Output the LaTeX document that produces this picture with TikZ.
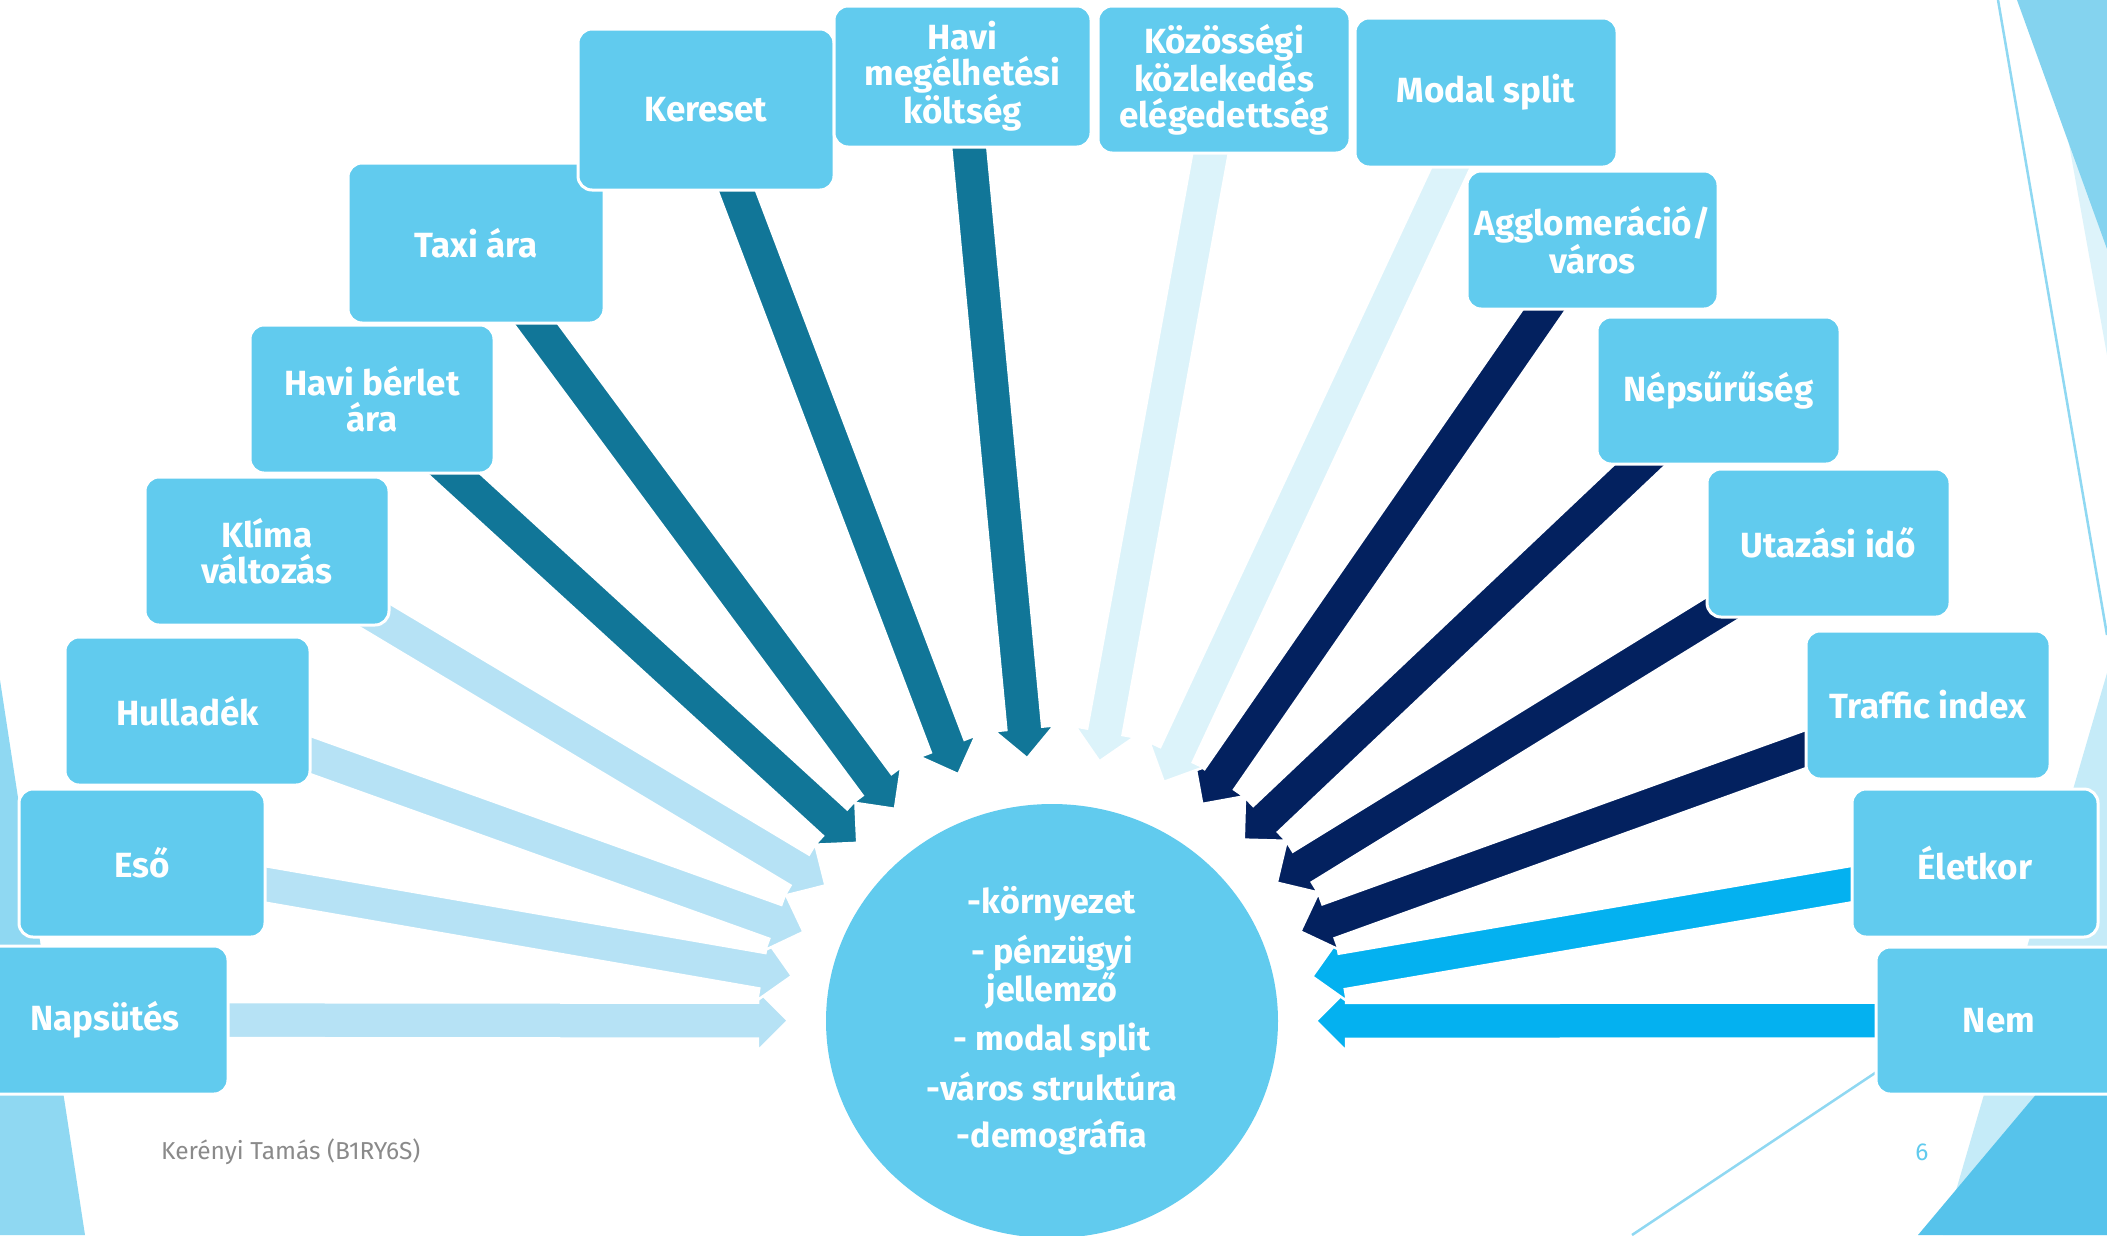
\documentclass[tikz,border=0pt]{standalone}
\usepackage{fontspec}
\setmainfont{Fira Sans}
\usetikzlibrary{calc,shapes.geometric}
\definecolor{boxblue}{HTML}{61CBEE}
\definecolor{lightarr}{HTML}{B6E2F5}
\definecolor{tealarr}{HTML}{117698}
\definecolor{palearr}{HTML}{DCF3FA}
\definecolor{navyarr}{HTML}{03215F}
\definecolor{brightarr}{HTML}{04B1F0}
\definecolor{decoA}{HTML}{8FD8F2}
\definecolor{decoB}{HTML}{DDF3FA}
\definecolor{decoC}{HTML}{84D3EF}
\definecolor{decoD}{HTML}{C5EBF8}
\definecolor{decoE}{HTML}{56C3EB}
\definecolor{footgray}{HTML}{8A8A8A}
\pgfdeclarelayer{deco}
\pgfdeclarelayer{arr}
\pgfsetlayers{deco,arr,main}
\tikzset{
  factor/.style={rectangle, rounded corners=14pt, fill=boxblue, draw=white,
    line width=3pt, text=white, font=\bfseries\fontsize{35}{36}\selectfont,
    align=center, inner sep=0pt},
  hub/.style={ellipse, fill=boxblue, draw=none, minimum width=452pt,
    minimum height=434pt, inner sep=0pt, text=white,
    font=\bfseries\fontsize{34}{34}\selectfont, align=center},
  decoline/.style={draw=decoA, line width=2.5pt},
  arrowedge/.style={draw=white, line width=2.5pt, line join=miter}
}
\newcommand\blkarrow[2]{%
  \coordinate (tip-#2) at ($(c.center)!264pt!(#2.center)$);
  \coordinate (nk-#2) at ($(tip-#2)!30pt!(#2.center)$);
  \path[fill=#1, arrowedge]
    ($(#2.center)!18pt!90:(tip-#2)$) -- ($(nk-#2)!18pt!90:(tip-#2)$) --
    ($(nk-#2)!30pt!90:(tip-#2)$) -- (tip-#2) --
    ($(nk-#2)!30pt!-90:(tip-#2)$) -- ($(nk-#2)!18pt!-90:(tip-#2)$) --
    ($(#2.center)!18pt!-90:(tip-#2)$) -- cycle;
}
\begin{document}
\begin{tikzpicture}[x=1pt,y=-1pt]
\useasboundingbox (0,0) rectangle (2107,1235);

% background decorations
\begin{pgfonlayer}{deco}
\fill[white] (0,0) rectangle (2107,1235);
\fill[decoB] (2043,0) -- (2107,0) -- (2107,355) -- cycle;
\fill[decoC] (2017,0) -- (2107,0) -- (2107,249) -- cycle;
\draw[decoline] (1998,0) -- (2107,635);
\fill[decoA] (0,680) -- (85,1235) -- (0,1235) -- cycle;
\fill[decoD] (1943,1235) -- (2107,673) -- (2107,1235) -- cycle;
\fill[decoE] (1918,1235) -- (2107,1010) -- (2107,1235) -- cycle;
\draw[decoline] (1632,1235) -- (1950,1023);
\end{pgfonlayer}

% centre
\node[hub] (c) at (1052,1021) {-környezet\\[13pt] - pénzügyi\\ jellemző\\[13pt] - modal split\\[13pt] -város struktúra\\[13pt] -demográfia};

% factor boxes
\node[factor, minimum width=246pt, minimum height=148pt] (b1) at (105,1020) {Napsütés};
\node[factor, minimum width=246pt, minimum height=148pt] (b2) at (142,863) {Eső};
\node[factor, minimum width=245pt, minimum height=148pt] (b3) at (187.5,711) {Hulladék};
\node[factor, minimum width=244pt, minimum height=148pt] (b4) at (267,551) {Klíma\\változás};
\node[factor, minimum width=244pt, minimum height=148pt] (b5) at (372,399) {Havi bérlet\\ára};
\node[factor, minimum width=256pt, minimum height=160pt] (b6) at (476,243) {Taxi ára};
\node[factor, minimum width=256pt, minimum height=161pt] (b7) at (706,109.5) {Kereset};
\node[factor, minimum width=257pt, minimum height=141pt] (b8) at (962.5,76.5) {Havi\\megélhetési\\költség};
\node[factor, minimum width=252pt, minimum height=147pt] (b9) at (1224,79.5) {Közösségi\\közlekedés\\elégedettség};
\node[factor, minimum width=262pt, minimum height=149pt] (b10) at (1486,92.5) {Modal split};
\node[factor, minimum width=251pt, minimum height=138pt] (b11) at (1592.5,240) {Agglomeráció/\\város};
\node[factor, minimum width=243pt, minimum height=147pt] (b12) at (1718.5,390.5) {Népsűrűség};
\node[factor, minimum width=243pt, minimum height=148pt] (b13) at (1828.5,543) {Utazási idő};
\node[factor, minimum width=244pt, minimum height=148pt] (b14) at (1928,705) {Traffic index};
\node[factor, minimum width=246pt, minimum height=148pt] (b15) at (1975,863) {Életkor};
\node[factor, minimum width=246pt, minimum height=147pt] (b16) at (1999,1020.5) {Nem};

% arrows
\begin{pgfonlayer}{arr}
\blkarrow{lightarr}{b1}
\blkarrow{lightarr}{b2}
\blkarrow{lightarr}{b3}
\blkarrow{lightarr}{b4}
\blkarrow{tealarr}{b5}
\blkarrow{tealarr}{b6}
\blkarrow{tealarr}{b7}
\blkarrow{tealarr}{b8}
\blkarrow{brightarr}{b16}
\blkarrow{brightarr}{b15}
\blkarrow{navyarr}{b14}
\blkarrow{navyarr}{b13}
\blkarrow{navyarr}{b12}
\blkarrow{navyarr}{b11}
\blkarrow{palearr}{b10}
\blkarrow{palearr}{b9}
\end{pgfonlayer}

% footer
\node[anchor=west, inner sep=0pt, text=footgray, font=\fontsize{24.5}{28}\selectfont] (foot) at (161,1152) {Kerényi Tamás (B1RY6S)};
\node[inner sep=0pt, text=boxblue, font=\fontsize{24.5}{28}\selectfont] (pg) at (1922,1152) {6};
\end{tikzpicture}
\end{document}
